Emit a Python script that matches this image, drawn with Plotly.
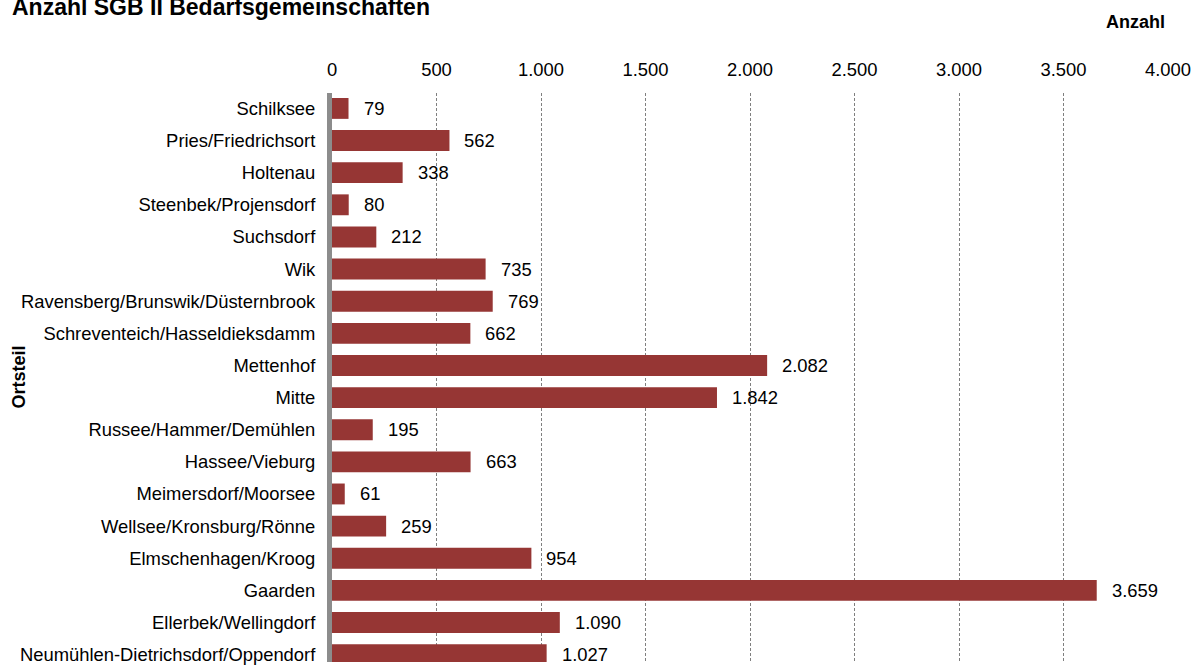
import plotly.graph_objects as go

# Ortsteile (top to bottom) and number of SGB II Bedarfsgemeinschaften
ortsteile = [
    "Schilksee",
    "Pries/Friedrichsort",
    "Holtenau",
    "Steenbek/Projensdorf",
    "Suchsdorf",
    "Wik",
    "Ravensberg/Brunswik/Düsternbrook",
    "Schreventeich/Hasseldieksdamm",
    "Mettenhof",
    "Mitte",
    "Russee/Hammer/Demühlen",
    "Hassee/Vieburg",
    "Meimersdorf/Moorsee",
    "Wellsee/Kronsburg/Rönne",
    "Elmschenhagen/Kroog",
    "Gaarden",
    "Ellerbek/Wellingdorf",
    "Neumühlen-Dietrichsdorf/Oppendorf",
]
anzahl = [79, 562, 338, 80, 212, 735, 769, 662, 2082, 1842,
          195, 663, 61, 259, 954, 3659, 1090, 1027]

x_ticks = [0, 500, 1000, 1500, 2000, 2500, 3000, 3500, 4000]

BAR_COLOR = "#963634"
FONT = "Liberation Sans, Arial, sans-serif"
TEXT = "#000000"
SIZE = 18.4


def fmt(v):
    return f"{v:,}".replace(",", ".")


fig = go.Figure()
fig.add_trace(go.Bar(
    x=anzahl,
    y=ortsteile,
    orientation="h",
    marker=dict(color=BAR_COLOR, line=dict(width=0)),
    hoverinfo="skip",
))

# value labels to the right of each bar
for name, v in zip(ortsteile, anzahl):
    fig.add_annotation(
        x=v, y=name, xref="x", yref="y",
        text=fmt(v), showarrow=False,
        xanchor="left", yanchor="middle", xshift=13,
        font=dict(family=FONT, size=SIZE, color=TEXT),
    )

fig.add_annotation(
    x=0, y=1, xref="paper", yref="paper",
    text="<b>Anzahl SGB II Bedarfsgemeinschaften</b>",
    showarrow=False, xanchor="left", yanchor="middle",
    xshift=-322, yshift=86,
    font=dict(family=FONT, size=23, color=TEXT),
)
fig.add_annotation(
    x=1, y=1, xref="paper", yref="paper",
    text="<b>Anzahl</b>",
    showarrow=False, xanchor="right", yanchor="middle",
    xshift=-1, yshift=71,
    font=dict(family=FONT, size=18, color=TEXT),
)
fig.add_annotation(
    x=0, y=0.5, xref="paper", yref="paper",
    text="<b>Ortsteil</b>", textangle=-90,
    showarrow=False, xanchor="center", yanchor="middle",
    xshift=-314,
    font=dict(family=FONT, size=18, color=TEXT),
)

fig.update_layout(
    width=1192, height=665,
    margin=dict(l=332, r=24, t=93, b=0),
    paper_bgcolor="white", plot_bgcolor="white",
    separators=",.",
    showlegend=False,
    bargap=0.35,
    font=dict(family=FONT, size=SIZE, color=TEXT),
    xaxis=dict(
        side="top",
        range=[0, 4000],
        tickvals=x_ticks,
        ticktext=[fmt(t) for t in x_ticks],
        showgrid=True, gridcolor="#7f7f7f", gridwidth=1, griddash="3px,2px",
        zeroline=False, showline=False,
        ticks="", ticklabelstandoff=12,
        tickfont=dict(family=FONT, size=SIZE, color=TEXT),
    ),
    yaxis=dict(
        range=[17.23, -0.48],
        showgrid=False, zeroline=False,
        showline=True, linecolor="#8c8c8c", linewidth=5,
        ticks="", ticklabelstandoff=8,
        tickfont=dict(family=FONT, size=SIZE, color=TEXT),
    ),
)

fig.write_html("out.html")
